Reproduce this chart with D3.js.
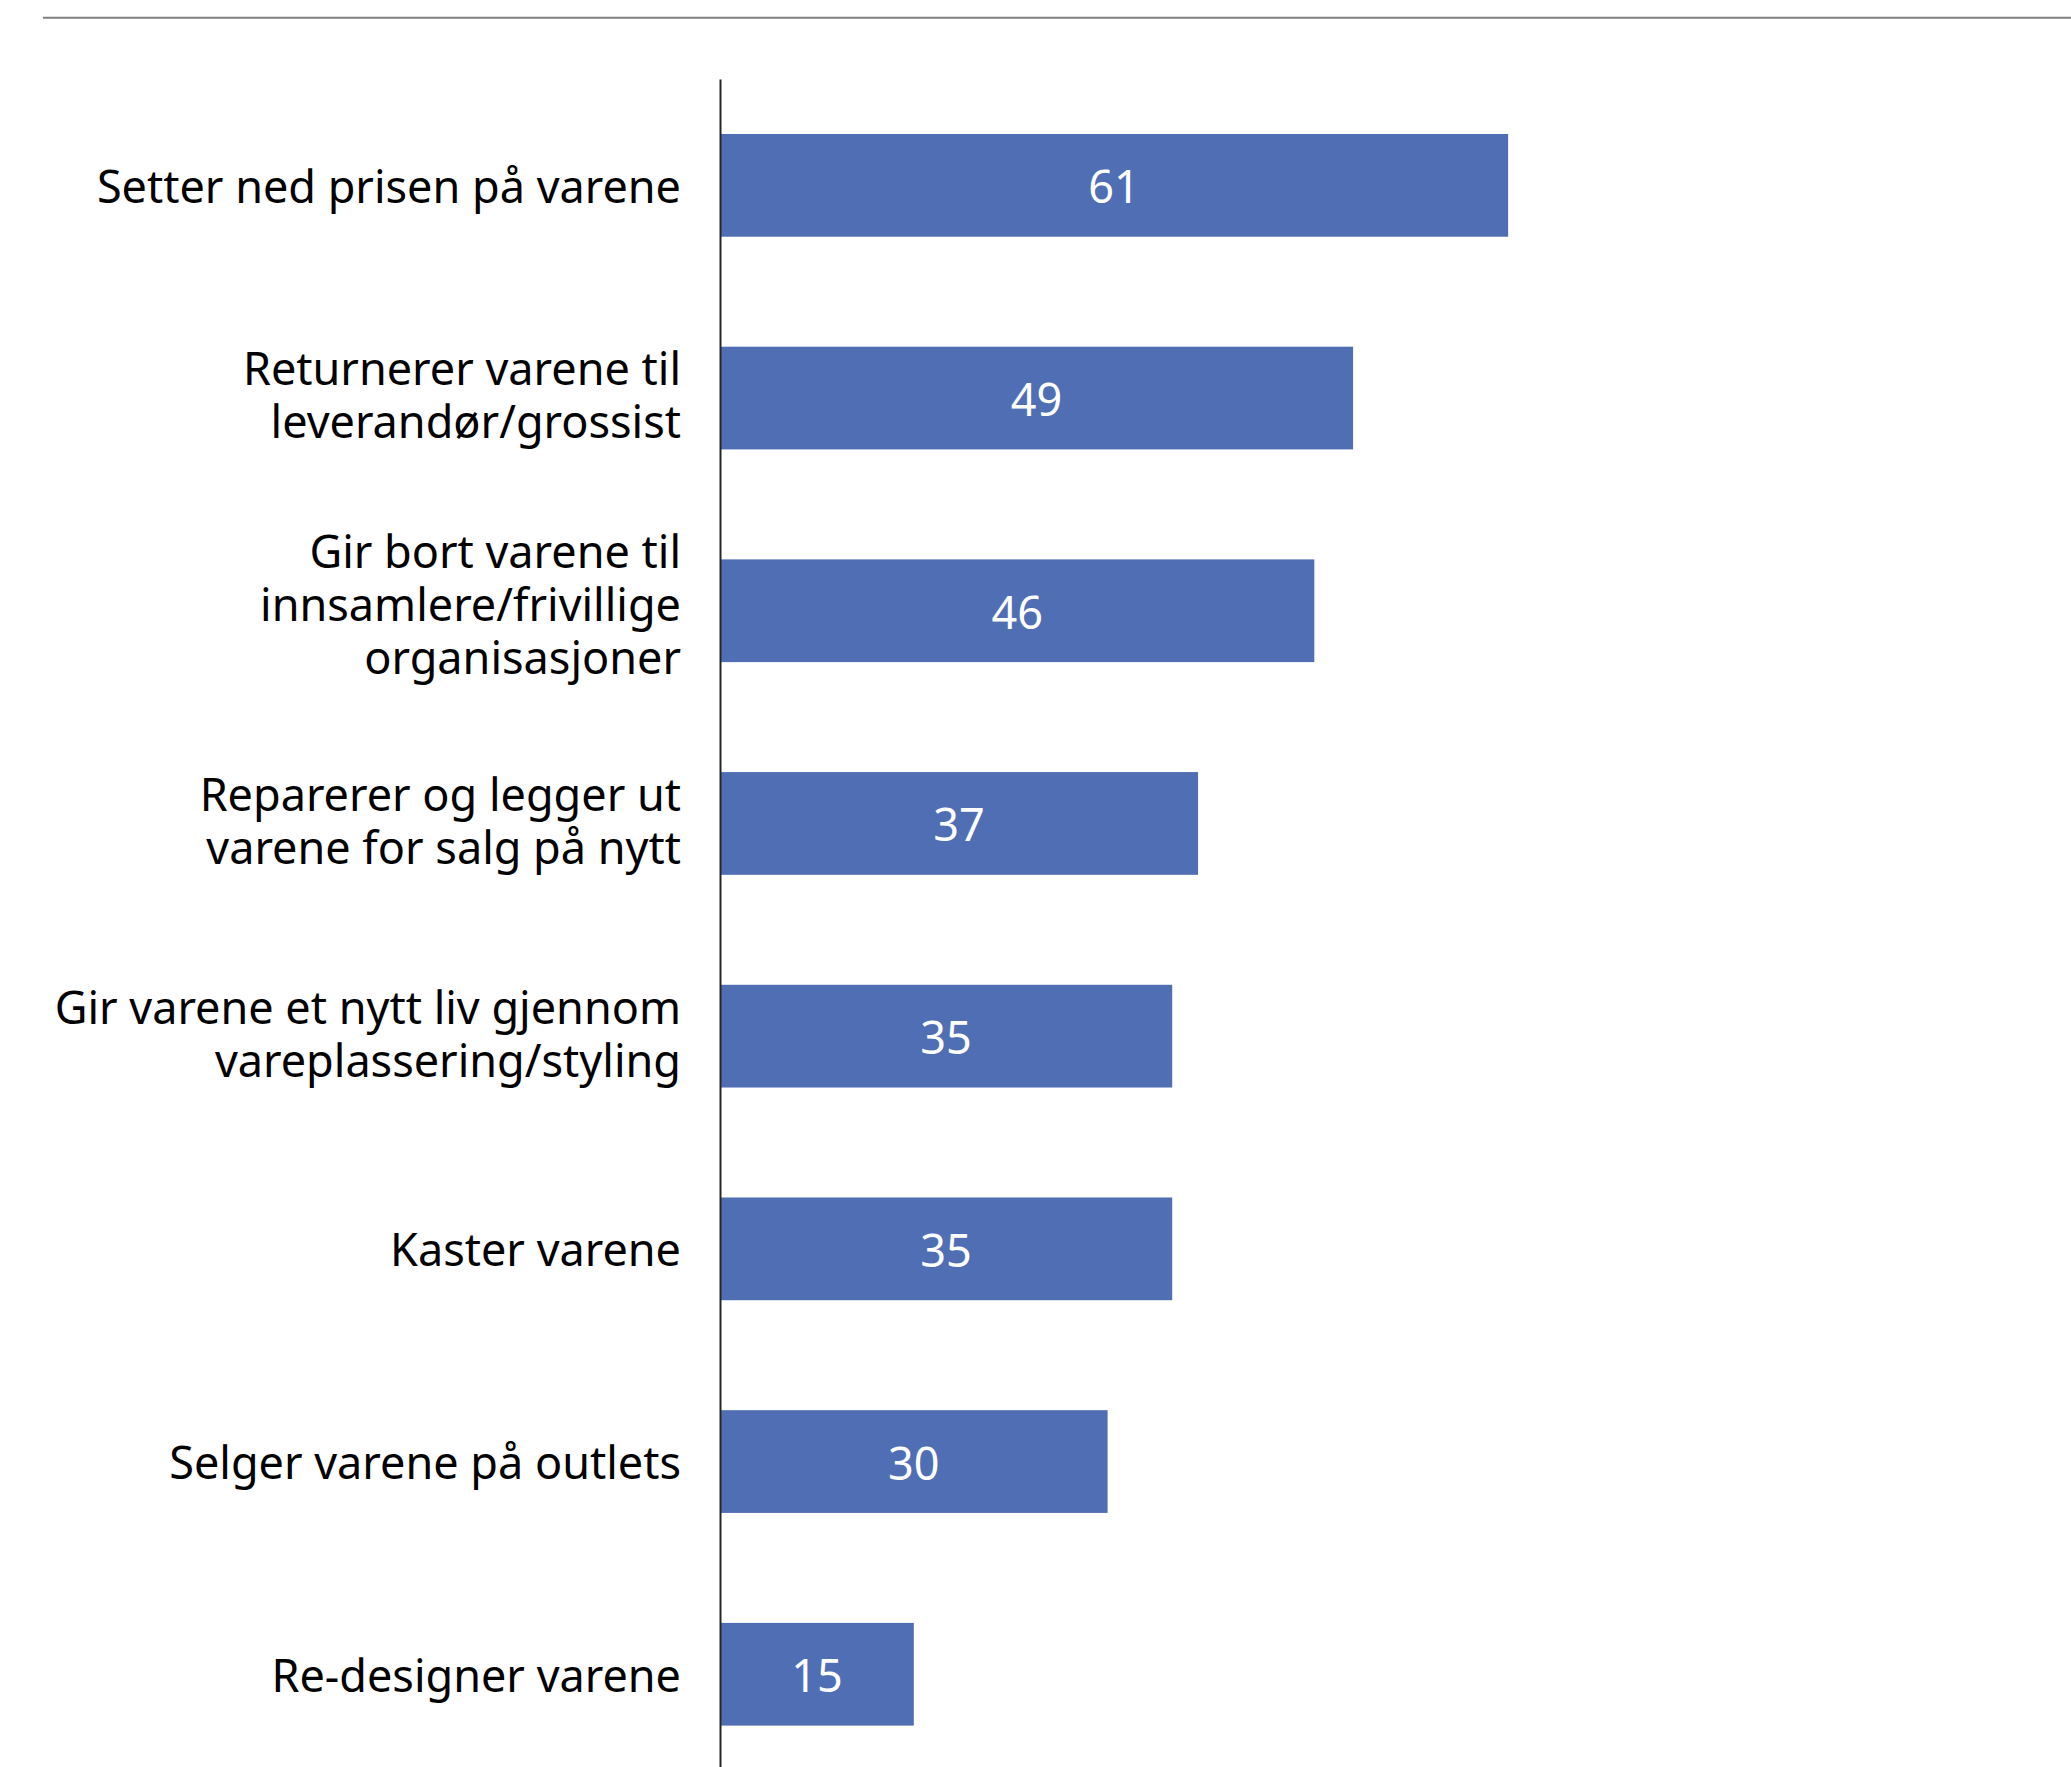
<!DOCTYPE html>
<html>
<head>
<meta charset="utf-8">
<script src="https://cdn.jsdelivr.net/npm/d3@7"></script>
<style>
  html, body { margin: 0; padding: 0; background: #ffffff; }
  svg { display: block; }
  text { font-family: "Noto Sans", "Open Sans", sans-serif; }
</style>
</head>
<body>
<script>
// Categories (line breaks mark where each label wraps) and their percentages
const categories = [
  "Setter ned prisen på varene",
  "Returnerer varene til\nleverandør/grossist",
  "Gir bort varene til\ninnsamlere/frivillige\norganisasjoner",
  "Reparerer og legger ut\nvarene for salg på nytt",
  "Gir varene et nytt liv gjennom\nvareplassering/styling",
  "Kaster varene",
  "Selger varene på outlets",
  "Re-designer varene"
];
const values = [61, 49, 46, 37, 35, 35, 30, 15];
const xDomain = [0, 100];

const W = 2071, H = 1767;
const axisX = 720;
const barColor = "#506EB4";
const fontSize = 45;
const lineHeight = 53;
const labelGap = 39;

const svg = d3.select("body").append("svg")
  .attr("width", W).attr("height", H);

// Rule across the top of the figure
svg.append("line")
  .attr("x1", 43).attr("x2", W)
  .attr("y1", 17.7).attr("y2", 17.7)
  .attr("stroke", "#7f7f7f").attr("stroke-width", 2);

const x = d3.scaleLinear().domain(xDomain).range([axisX, 2012]);
const y = d3.scaleBand()
  .domain(categories)
  .range([79, 79 + categories.length * 212.7])
  .paddingInner(0.517)
  .paddingOuter(0.2585);

// Bars
svg.append("g").selectAll("rect")
  .data(categories)
  .join("rect")
  .attr("x", x(0))
  .attr("y", d => y(d))
  .attr("width", (d, i) => x(values[i]) - x(0))
  .attr("height", y.bandwidth())
  .attr("fill", barColor);

// Value labels inside the bars
svg.append("g").selectAll("text")
  .data(categories)
  .join("text")
  .attr("x", (d, i) => (x(0) + x(values[i])) / 2)
  .attr("y", d => y(d) + y.bandwidth() / 2 + 18)
  .attr("text-anchor", "middle")
  .attr("fill", "#ffffff")
  .attr("font-size", fontSize)
  .text((d, i) => values[i]);

// Category axis: vertical line with wrapped labels
const yAxis = d3.axisLeft(y).tickSize(0).tickSizeOuter(0).tickPadding(labelGap);
const gAxis = svg.append("g")
  .attr("transform", `translate(${axisX},0)`)
  .call(yAxis);

gAxis.select(".domain")
  .attr("stroke", "#262626")
  .attr("stroke-width", 2);

gAxis.selectAll(".tick text")
  .attr("font-size", fontSize)
  .attr("font-family", "'Noto Sans', 'Open Sans', sans-serif")
  .attr("fill", "#000000")
  .attr("dy", null)
  .each(function(d) {
    const lines = d.split("\n");
    const n = lines.length;
    const t = d3.select(this).text(null);
    const offset = 17.5 - (n - 1) * 3.6;
    const first = offset - (n - 1) * lineHeight / 2;
    lines.forEach((ln, k) => {
      t.append("tspan")
        .attr("x", -labelGap)
        .attr("y", first + k * lineHeight)
        .text(ln);
    });
  });
</script>
</body>
</html>
